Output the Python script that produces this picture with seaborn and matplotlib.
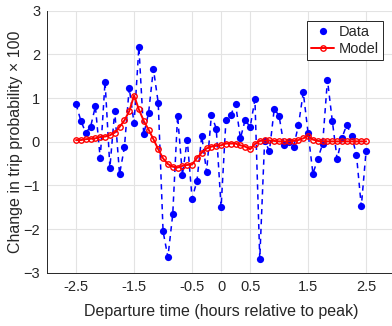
import numpy as np
import pandas as pd
import matplotlib
matplotlib.use("Agg")
import matplotlib.pyplot as plt
import seaborn as sns

# Departure time in 5-minute steps, hours relative to peak
time_hours = np.round(np.arange(-30, 31) / 12.0, 4)

data_values = [
    0.86, 0.48, 0.21, 0.34, 0.81, -0.38, 1.38, -0.59, 0.71, -0.74,
    -0.13, 1.24, 0.42, 2.17, 0.17, 0.66, 1.67, 0.89, -2.05, -2.64,
    -1.66, 0.60, -0.76, 0.05, -1.30, -0.90, 0.14, -0.69, 0.62, 0.30,
    -1.50, 0.49, 0.62, 0.86, 0.08, 0.51, 0.33, 0.97, -2.68, 0.02,
    -0.21, 0.76, 0.59, -0.08, 0.00, -0.11, 0.38, 1.13, 0.20, -0.73,
    -0.39, -0.05, 1.42, 0.48, -0.39, 0.09, 0.39, 0.14, -0.30, -1.48,
    -0.20,
]

model_values = [
    0.04, 0.04, 0.06, 0.07, 0.08, 0.11, 0.12, 0.15, 0.21, 0.34,
    0.49, 0.70, 1.06, 0.74, 0.48, 0.28, 0.06, -0.17, -0.38, -0.51,
    -0.57, -0.59, -0.55, -0.53, -0.52, -0.37, -0.25, -0.15, -0.11, -0.09,
    -0.08, -0.04, -0.04, -0.04, -0.08, -0.11, -0.17, -0.05, 0.02, 0.03,
    0.03, 0.02, 0.01, 0.01, 0.01, 0.02, 0.04, 0.08, 0.13, 0.05,
    0.02, 0.01, 0.01, 0.01, 0.01, 0.01, 0.01, 0.01, 0.01, 0.01,
    0.01,
]

x_ticks = [-2.5, -1.5, -0.5, 0, 0.5, 1.5, 2.5]
x_tick_labels = ["-2.5", "-1.5", "-0.5", "0", "0.5", "1.5", "2.5"]
y_ticks = [-3, -2, -1, 0, 1, 2, 3]

df = pd.DataFrame({"t": time_hours, "data": data_values, "model": model_values})

sns.set_style("whitegrid")
plt.rcParams["font.family"] = ["Liberation Sans", "DejaVu Sans"]

fig = plt.figure(figsize=(3.92, 3.26), dpi=100)
ax = fig.add_axes([0.12, 0.163, 0.888, 0.804])

# dashed connector through the measured points
sns.lineplot(data=df, x="t", y="data", ax=ax, color=(0, 0, 1), linestyle=(0, (3.5, 3)),
             linewidth=1.1, legend=False, zorder=2)
# measured points
sns.lineplot(data=df, x="t", y="data", ax=ax, color=(0, 0, 1), linestyle="none",
             marker="o", markersize=5.2, markeredgewidth=0, label="Data", zorder=3)
# model curve
sns.lineplot(data=df, x="t", y="model", ax=ax, color=(1, 0, 0), linewidth=1.4,
             marker="o", markersize=3.9, markerfacecolor="none", markeredgecolor=(1, 0, 0),
             markeredgewidth=1.0, label="Model", zorder=4)

ax.set_xlim(-3, 3)
ax.set_ylim(-3, 3)
ax.set_xticks(x_ticks)
ax.set_xticklabels(x_tick_labels)
ax.set_yticks(y_ticks)
ax.tick_params(axis="both", labelsize=10.5, colors="#262626", direction="in",
               length=3, width=0.6, pad=5)
ax.grid(True, color="#e3e3e3", linewidth=0.8)
ax.set_facecolor("white")
for side in ("top", "right"):
    ax.spines[side].set_visible(False)
for side in ("left", "bottom"):
    ax.spines[side].set_visible(True)
    ax.spines[side].set_color("#262626")
    ax.spines[side].set_linewidth(0.7)

ax.set_xlabel("Departure time (hours relative to peak)", fontsize=11.5, color="#262626", labelpad=7)
ax.set_ylabel("Change in trip probability \u00d7 100", fontsize=11.5, color="#262626", labelpad=0)

leg = ax.legend(loc="upper right", bbox_to_anchor=(0.966, 0.962), fontsize=10.5,
                frameon=True, fancybox=False, edgecolor="#262626", framealpha=1,
                handlelength=1.6, handletextpad=0.3, borderpad=0.3, labelspacing=0.2,
                borderaxespad=0)
leg.get_frame().set_linewidth(0.7)

fig.savefig("out.png", dpi=100)
